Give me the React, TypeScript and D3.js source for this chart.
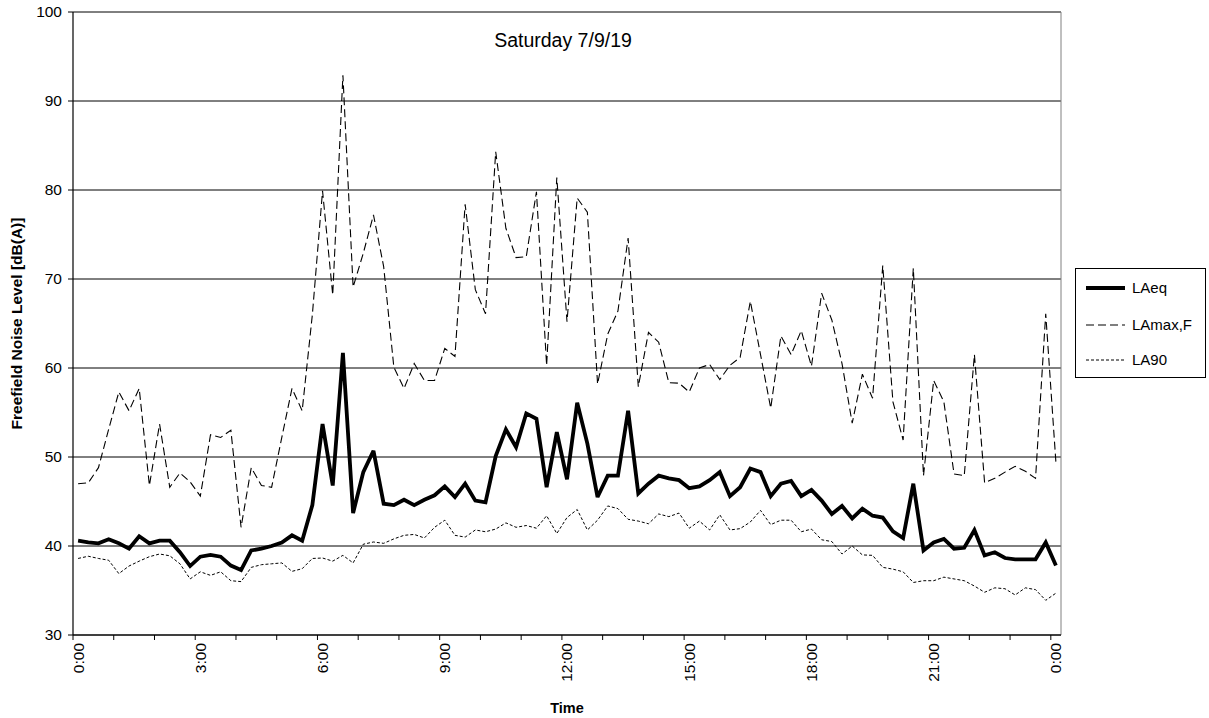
import React from "react";
import * as d3 from "d3";

const categories: string[] = [
  "0:00","0:15","0:30","0:45","1:00","1:15","1:30","1:45","2:00","2:15","2:30","2:45",
  "3:00","3:15","3:30","3:45","4:00","4:15","4:30","4:45","5:00","5:15","5:30","5:45",
  "6:00","6:15","6:30","6:45","7:00","7:15","7:30","7:45","8:00","8:15","8:30","8:45",
  "9:00","9:15","9:30","9:45","10:00","10:15","10:30","10:45","11:00","11:15","11:30","11:45",
  "12:00","12:15","12:30","12:45","13:00","13:15","13:30","13:45","14:00","14:15","14:30","14:45",
  "15:00","15:15","15:30","15:45","16:00","16:15","16:30","16:45","17:00","17:15","17:30","17:45",
  "18:00","18:15","18:30","18:45","19:00","19:15","19:30","19:45","20:00","20:15","20:30","20:45",
  "21:00","21:15","21:30","21:45","22:00","22:15","22:30","22:45","23:00","23:15","23:30","23:45",
  "0:00 "
];

const laeq: number[] = [
  40.6, 40.4, 40.3, 40.75, 40.3, 39.7, 41.1, 40.3, 40.6, 40.6, 39.3, 37.75,
  38.8, 39.0, 38.8, 37.8, 37.3, 39.5, 39.7, 40.0, 40.4, 41.2, 40.6, 44.6,
  53.7, 46.8, 61.7, 43.7, 48.3, 50.7, 44.75, 44.6, 45.2, 44.6, 45.2, 45.7,
  46.7, 45.5, 47.0, 45.1, 44.9, 50.1, 53.1, 51.1, 54.9, 54.3, 46.6, 52.8,
  47.5, 56.1, 51.5, 45.5, 47.9, 47.9, 55.2, 45.9, 47.0, 47.9, 47.6, 47.4,
  46.5, 46.7, 47.4, 48.3, 45.6, 46.6, 48.7, 48.3, 45.6, 47.0, 47.3, 45.6,
  46.3, 45.1, 43.6, 44.5, 43.1, 44.2, 43.4, 43.2, 41.65, 40.9, 47.0, 39.5,
  40.4, 40.8, 39.7, 39.8, 41.8, 38.95, 39.3, 38.65, 38.5, 38.5, 38.5, 40.4,
  37.8
];

const lamax: number[] = [
  47.0, 47.1, 48.8, 53.1, 57.3, 55.2, 57.7, 46.8, 53.7, 46.6, 48.2, 47.2,
  45.6, 52.5, 52.2, 53.0, 42.1, 48.8, 46.8, 46.6, 52.2, 57.7, 55.2, 66.0,
  79.9, 68.2, 92.9, 69.1, 72.9, 77.2, 71.4, 60.1, 57.7, 60.5, 58.6, 58.6,
  62.2, 61.3, 78.4, 68.8, 66.1, 84.3, 75.7, 72.4, 72.5, 79.8, 60.3, 81.4,
  65.2, 79.1, 77.5, 58.2, 63.8, 66.4, 74.6, 57.9, 64.0, 62.9, 58.35, 58.3,
  57.3, 60.0, 60.4, 58.7, 60.3, 61.2, 67.5, 61.5, 55.5, 63.6, 61.5, 64.2,
  60.2, 68.4, 65.4, 60.5, 53.8, 59.3, 56.6, 71.5, 56.2, 51.9, 71.2, 47.9,
  58.6, 56.2, 48.1, 47.9, 61.5, 47.1, 47.6, 48.3, 48.95, 48.4, 47.6, 66.1,
  49.4
];

const la90: number[] = [
  38.6, 38.85, 38.6, 38.4, 36.9, 37.75, 38.3, 38.8, 39.1, 38.9, 38.0, 36.3,
  37.1, 36.7, 37.1, 36.1, 36.0, 37.6, 37.9, 38.0, 38.1, 37.15, 37.45, 38.6,
  38.65, 38.3, 38.95, 38.1, 40.2, 40.45, 40.3, 40.8, 41.2, 41.3, 40.9, 42.1,
  42.9, 41.2, 41.0, 41.8, 41.6, 41.9, 42.6, 42.1, 42.3, 42.0, 43.4, 41.4,
  43.2, 44.1, 41.8, 42.9, 44.5, 44.2, 43.0, 42.8, 42.5, 43.6, 43.3, 43.7,
  42.0, 42.8, 41.8, 43.5, 41.8, 41.95, 42.7, 44.0, 42.4, 42.9, 42.9, 41.6,
  41.9, 40.7, 40.5, 39.1, 40.0, 39.0, 38.95, 37.6, 37.4, 37.1, 35.9, 36.1,
  36.1, 36.5, 36.3, 36.1, 35.5, 34.8, 35.3, 35.2, 34.5, 35.3, 35.1, 33.9,
  34.7
];

const yTicks: number[] = [30, 40, 50, 60, 70, 80, 90, 100];
const xTickLabels: string[] = ["0:00", "3:00", "6:00", "9:00", "12:00", "15:00", "18:00", "21:00", "0:00"];
const seriesNames: string[] = ["LAeq", "LAmax,F", "LA90"];

const FONT = "'Liberation Sans', Arial, sans-serif";

export default function App() {
  const left = 73, right = 1061, top = 12, bottom = 635;
  const x = d3.scalePoint<string>().domain(categories).range([left, right]).padding(0.5);
  const y = d3.scaleLinear().domain([30, 100]).range([bottom, top]);
  const step = x.step();

  const line = d3
    .line<number>()
    .x((_, i) => x(categories[i]) as number)
    .y((d) => y(d));

  const series = [
    { name: seriesNames[0], data: laeq, width: 3.8, dash: "none" },
    { name: seriesNames[1], data: lamax, width: 1.1, dash: "8,4" },
    { name: seriesNames[2], data: la90, width: 1, dash: "3,2" },
  ];

  const hourTicks = d3.range(0, categories.length, 4).map((i) => (x(categories[i]) as number) - step / 2);
  const labelPos = xTickLabels.map((t, k) => ({ t, xp: x(categories[k * 12]) as number }));

  return (
    <svg
      width={1209}
      height={718}
      style={{ position: "absolute", left: 0, top: 0, background: "#fff" }}
      fontFamily={FONT}
    >
      <rect x={0} y={0} width={1209} height={718} fill="#fff" />
      {/* gridlines */}
      {yTicks.map((t) => (
        <line key={"g" + t} x1={left} x2={right} y1={y(t)} y2={y(t)} stroke="#000" strokeWidth={1} />
      ))}
      <line x1={right} x2={right} y1={top} y2={bottom} stroke="#808080" strokeWidth={1} />
      {/* series */}
      {series.map((s) => (
        <path
          key={s.name}
          d={line(s.data) || ""}
          fill="none"
          stroke="#000"
          strokeWidth={s.width}
          strokeDasharray={s.dash}
          strokeLinejoin="miter"
          strokeMiterlimit={3}
        />
      ))}
      {/* axes */}
      <line x1={left} x2={left} y1={top} y2={bottom} stroke="#000" strokeWidth={1.2} />
      <line x1={left} x2={right} y1={bottom} y2={bottom} stroke="#000" strokeWidth={1.2} />
      {yTicks.map((t) => (
        <g key={"yt" + t}>
          <line x1={left - 5} x2={left} y1={y(t)} y2={y(t)} stroke="#000" />
          <text x={62} y={y(t)} dy="0.35em" textAnchor="end" fontSize={15.5} fill="#000">
            {t}
          </text>
        </g>
      ))}
      {hourTicks.map((xp, i) => (
        <line key={"xt" + i} x1={xp} x2={xp} y1={bottom} y2={bottom + 5} stroke="#000" />
      ))}
      {labelPos.map((l, i) => (
        <text
          key={"xl" + i}
          transform={`translate(${l.xp},${643}) rotate(-90)`}
          dy="0.35em"
          textAnchor="end"
          fontSize={15.5}
          fill="#000"
        >
          {l.t}
        </text>
      ))}
      {/* titles */}
      <text x={563} y={47} textAnchor="middle" fontSize={19.5} fill="#000">
        Saturday 7/9/19
      </text>
      <text
        transform={`translate(22,${(top + bottom) / 2}) rotate(-90)`}
        textAnchor="middle"
        fontSize={15.5}
        fontWeight="bold"
        fill="#000"
      >
        Freefield Noise Level [dB(A)]
      </text>
      <text x={(left + right) / 2} y={713} textAnchor="middle" fontSize={14.5} fontWeight="bold" fill="#000">
        Time
      </text>
      {/* legend */}
      <rect x={1075.5} y={268.5} width={130} height={109} fill="#fff" stroke="#000" strokeWidth={1} />
      {series.map((s, i) => {
        const ly = [288, 325, 360][i];
        return (
          <g key={"lg" + s.name}>
            <line x1={1086} x2={1125} y1={ly} y2={ly} stroke="#000" strokeWidth={s.width} strokeDasharray={s.dash} />
            <text x={1132} y={ly} dy="0.35em" fontSize={15} fill="#000">
              {s.name}
            </text>
          </g>
        );
      })}
    </svg>
  );
}
